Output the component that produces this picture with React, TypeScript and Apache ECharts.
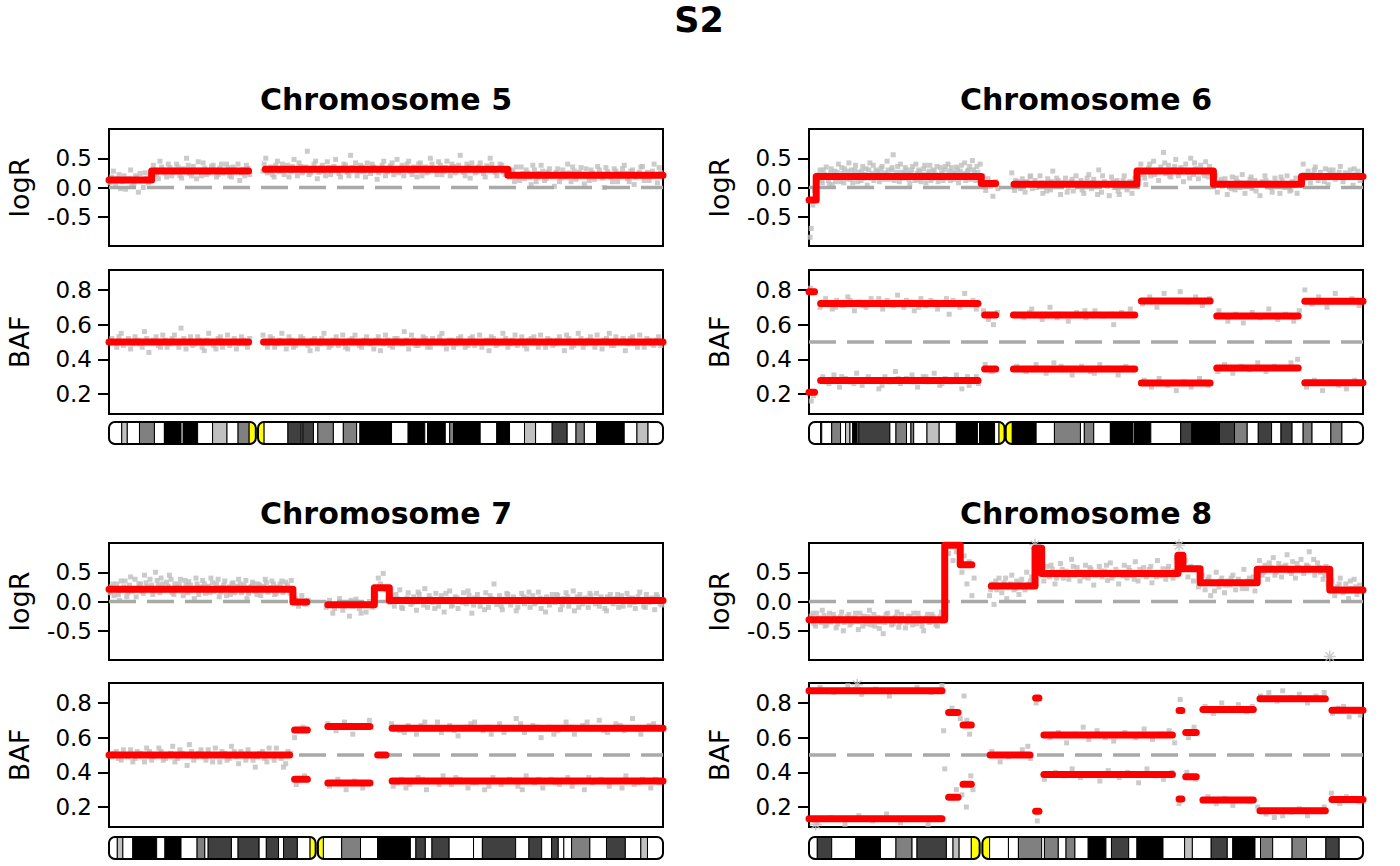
import { useEffect, useRef } from "react";
import * as echarts from "echarts";

type Pt = [number, number];
type Seg = [number, number, number]; // start %, end %, value
type Band = [number, string]; // band end %, stain

// positions are given in % of chromosome length
const CHROMOSOMES = ["5", "6", "7", "8"];
const LOGR_TICKS = [-0.5, 0, 0.5];
const BAF_TICKS = [0.2, 0.4, 0.6, 0.8];
const LOGR_REF = 0;
const BAF_REF = 0.5;

// ---- chromosome 5 ----
const chr5LogR: Pt[] = [[0.5,0.18],[1.2,0.05],[1.8,0.22],[2.4,0.1],[3.0,-0.03],[3.6,0.15],[4.1,0.02],[4.8,0.2],[5.3,-0.08],[5.9,0.12],[6.5,0.25],[7.1,0.08],[8.0,0.38],[8.6,0.22],[9.2,0.45],[9.8,0.3],[10.4,0.18],[11.0,0.34],[11.6,0.26],[12.2,0.4],[12.8,0.2],[13.4,0.32],[14.0,0.5],[14.6,0.24],[15.2,0.36],[15.8,0.15],[16.4,0.3],[17.0,0.42],[17.6,0.22],[18.2,0.28],[18.8,0.38],[19.4,0.18],[20.0,0.33],[20.6,0.25],[21.2,0.4],[21.8,0.2],[22.4,0.35],[23.0,0.27],[23.6,0.12],[24.2,0.31],[24.8,0.38],[25.4,0.22],[28.0,0.4],[28.6,0.25],[29.2,0.35],[29.8,0.18],[30.4,0.45],[31.0,0.3],[31.6,0.22],[32.2,0.38],[32.8,0.28],[33.4,0.48],[34.0,0.2],[34.6,0.36],[35.2,0.3],[35.8,0.62],[36.4,0.25],[37.0,0.4],[37.6,0.15],[38.2,0.33],[38.8,0.28],[39.4,0.44],[40.0,0.22],[40.6,0.36],[41.2,0.3],[41.8,0.18],[42.4,0.4],[43.0,0.26],[43.6,0.55],[44.2,0.32],[44.8,0.2],[45.4,0.38],[46.0,0.28],[46.6,0.42],[47.2,0.24],[47.8,0.35],[48.4,0.14],[49.0,0.31],[49.6,0.45],[50.2,0.27],[50.8,0.37],[51.4,0.22],[52.0,0.48],[52.6,0.3],[53.2,0.2],[53.8,0.4],[54.4,0.28],[55.0,0.35],[55.6,0.18],[56.2,0.42],[56.8,0.3],[57.4,0.25],[58.0,0.5],[58.6,0.33],[59.2,0.22],[59.8,0.38],[60.4,0.28],[61.0,0.45],[61.6,0.2],[62.2,0.36],[62.8,0.3],[63.4,0.55],[64.0,0.26],[64.6,0.4],[65.2,0.16],[65.8,0.33],[66.4,0.28],[67.0,0.42],[67.6,0.24],[68.2,0.37],[68.8,0.5],[69.4,0.3],[70.0,0.2],[70.6,0.4],[71.2,0.27],[72.6,0.3],[73.2,0.1],[73.8,0.22],[74.4,0.35],[75.0,0.15],[75.6,0.25],[76.2,0.05],[76.8,0.3],[77.4,0.18],[78.0,0.38],[78.6,0.12],[79.2,0.26],[79.8,0.2],[80.4,0.02],[81.0,0.32],[81.6,0.16],[82.2,0.24],[82.8,0.4],[83.4,0.1],[84.0,0.28],[84.6,0.2],[85.2,0.34],[85.8,0.06],[86.4,0.22],[87.0,0.3],[87.6,0.14],[88.2,0.36],[88.8,0.2],[89.4,0.0],[90.0,0.27],[90.6,0.18],[91.2,0.32],[91.8,0.1],[92.4,0.24],[93.0,0.38],[93.6,0.15],[94.2,0.28],[94.8,0.05],[95.4,0.22],[96.0,0.35],[96.6,0.12],[97.2,0.26],[97.8,0.2],[98.4,0.4],[99.0,0.08],[99.6,0.25],
  [0.2,0.08],[0.8,0.28],[1.5,0.15],[2.1,-0.02],[2.7,0.2],[3.3,0.12],[3.9,0.3],[4.5,0.06],[5.0,0.17],[5.6,0.24],[6.2,0.0],[6.8,0.15],[7.4,0.22],[7.9,0.2],[8.3,0.3],[8.9,0.15],[9.5,0.35],[10.1,0.25],[10.7,0.4],[11.3,0.2],[11.9,0.3],[12.5,0.35],[13.1,0.16],[13.7,0.28],[14.3,0.38],[14.9,0.2],[15.5,0.27],[16.1,0.44],[16.7,0.2],[17.3,0.33],[17.9,0.25],[18.5,0.36],[19.1,0.3],[19.7,0.22],[20.3,0.4],[20.9,0.28],[21.5,0.34],[22.1,0.18],[22.7,0.3],[23.3,0.4],[23.9,0.25],[24.5,0.2],[25.1,0.33],[27.8,0.28],[28.3,0.5],[28.9,0.32],[29.5,0.22],[30.1,0.38],[30.7,0.28],[31.3,0.4],[31.9,0.32],[32.5,0.18],[33.1,0.36],[33.7,0.3],[34.3,0.42],[34.9,0.25],[35.5,0.35],[36.1,0.22],[36.7,0.32],[37.3,0.45],[37.9,0.26],[38.5,0.38],[39.1,0.2],[39.7,0.34],[40.3,0.3],[40.9,0.48],[41.5,0.24],[42.1,0.32],[42.7,0.38],[43.3,0.2],[43.9,0.34],[44.5,0.42],[45.1,0.28],[45.7,0.35],[46.3,0.18],[46.9,0.32],[47.5,0.4],[48.1,0.3],[48.7,0.25],[49.3,0.38],[49.9,0.2],[50.5,0.33],[51.1,0.42],[51.7,0.3],[52.3,0.25],[52.9,0.38],[53.5,0.32],[54.1,0.45],[54.7,0.22],[55.3,0.3],[55.9,0.4],[56.5,0.2],[57.1,0.35],[57.7,0.28],[58.3,0.4],[58.9,0.3],[59.5,0.44],[60.1,0.22],[60.7,0.34],[61.3,0.3],[61.9,0.4],[62.5,0.25],[63.1,0.38],[63.7,0.3],[64.3,0.2],[64.9,0.36],[65.5,0.42],[66.1,0.25],[66.7,0.35],[67.3,0.3],[67.9,0.18],[68.5,0.33],[69.1,0.4],[69.7,0.26],[70.3,0.32],[70.9,0.38],[71.5,0.22],[72.3,0.18],[72.9,0.28],[73.5,0.35],[74.1,0.12],[74.7,0.24],[75.3,0.3],[75.9,0.18],[76.5,0.38],[77.1,0.1],[77.7,0.24],[78.3,0.28],[78.9,0.15],[79.5,0.32],[80.1,0.2],[80.7,0.26],[81.3,0.1],[81.9,0.3],[82.5,0.18],[83.1,0.25],[83.7,0.35],[84.3,0.14],[84.9,0.26],[85.5,0.22],[86.1,0.32],[86.7,0.12],[87.3,0.25],[87.9,0.2],[88.5,0.3],[89.1,0.16],[89.7,0.34],[90.3,0.22],[90.9,0.1],[91.5,0.28],[92.1,0.2],[92.7,0.32],[93.3,0.24],[93.9,0.1],[94.5,0.3],[95.1,0.18],[95.7,0.26],[96.3,0.36],[96.9,0.2],[97.5,0.12],[98.1,0.28],[98.7,0.22],[99.3,0.34]];
const chr5LogRSegs: Seg[] = [[0,7.7,0.13],[7.7,25.2,0.28],[28.2,72.0,0.31],[72.0,100,0.21]];
const chr5Baf: Pt[] = [[0.5,0.52],[1.4,0.47],[2.2,0.55],[3.0,0.5],[3.9,0.46],[4.7,0.53],[5.5,0.49],[6.4,0.56],[7.2,0.44],[8.0,0.51],[8.9,0.48],[9.7,0.54],[10.5,0.47],[11.4,0.52],[12.2,0.5],[13.0,0.58],[13.9,0.46],[14.7,0.53],[15.5,0.49],[16.4,0.51],[17.2,0.45],[18.0,0.55],[18.9,0.48],[19.7,0.52],[20.5,0.47],[21.4,0.54],[22.2,0.5],[23.0,0.46],[23.9,0.53],[24.7,0.49],[25.4,0.52],[27.8,0.54],[28.6,0.47],[29.5,0.52],[30.3,0.49],[31.2,0.55],[32.0,0.46],[32.9,0.51],[33.7,0.48],[34.6,0.53],[35.4,0.5],[36.3,0.45],[37.1,0.52],[38.0,0.49],[38.8,0.55],[39.7,0.47],[40.5,0.51],[41.4,0.48],[42.2,0.54],[43.1,0.46],[43.9,0.52],[44.8,0.5],[45.6,0.47],[46.5,0.53],[47.3,0.49],[48.2,0.51],[49.0,0.45],[49.9,0.54],[50.7,0.48],[51.6,0.52],[52.4,0.5],[53.3,0.56],[54.1,0.46],[55.0,0.51],[55.8,0.48],[56.7,0.53],[57.5,0.47],[58.4,0.52],[59.2,0.5],[60.1,0.55],[60.9,0.46],[61.8,0.51],[62.6,0.49],[63.5,0.53],[64.3,0.47],[65.2,0.52],[66.0,0.48],[66.9,0.54],[67.7,0.5],[68.6,0.45],[69.4,0.52],[70.3,0.49],[71.1,0.55],[72.0,0.47],[72.8,0.51],[73.7,0.48],[74.5,0.53],[75.4,0.46],[76.2,0.52],[77.1,0.5],[77.9,0.54],[78.8,0.47],[79.6,0.51],[80.5,0.49],[81.3,0.53],[82.2,0.45],[83.0,0.52],[83.9,0.48],[84.7,0.55],[85.6,0.47],[86.4,0.51],[87.3,0.5],[88.1,0.54],[89.0,0.46],[89.8,0.52],[90.7,0.48],[91.5,0.53],[92.4,0.5],[93.2,0.45],[94.1,0.52],[94.9,0.49],[95.8,0.54],[96.6,0.47],[97.5,0.51],[98.3,0.48],[99.2,0.53],
  [0.9,0.5],[1.8,0.53],[2.6,0.48],[3.5,0.52],[4.3,0.49],[5.1,0.51],[6.0,0.47],[6.8,0.52],[7.6,0.5],[8.5,0.53],[9.3,0.47],[10.1,0.51],[11.0,0.49],[11.8,0.54],[12.6,0.47],[13.5,0.52],[14.3,0.5],[15.1,0.48],[16.0,0.53],[16.8,0.47],[17.6,0.51],[18.5,0.5],[19.3,0.46],[20.1,0.53],[21.0,0.5],[21.8,0.48],[22.6,0.52],[23.5,0.49],[24.3,0.51],[25.0,0.47],[28.2,0.5],[29.1,0.53],[29.9,0.47],[30.8,0.51],[31.6,0.5],[32.5,0.53],[33.3,0.47],[34.2,0.5],[35.0,0.52],[35.9,0.48],[36.7,0.51],[37.6,0.46],[38.4,0.52],[39.3,0.5],[40.1,0.48],[41.0,0.53],[41.8,0.5],[42.7,0.47],[43.5,0.51],[44.4,0.54],[45.2,0.48],[46.1,0.51],[46.9,0.5],[47.8,0.46],[48.6,0.53],[49.5,0.49],[50.3,0.51],[51.2,0.47],[52.0,0.52],[52.9,0.49],[53.7,0.51],[54.6,0.54],[55.4,0.48],[56.3,0.5],[57.1,0.52],[58.0,0.47],[58.8,0.5],[59.7,0.53],[60.5,0.49],[61.4,0.51],[62.2,0.47],[63.1,0.52],[63.9,0.5],[64.8,0.48],[65.6,0.53],[66.5,0.5],[67.3,0.47],[68.2,0.51],[69.0,0.53],[69.9,0.48],[70.7,0.5],[71.6,0.52],[72.4,0.49],[73.3,0.54],[74.1,0.5],[75.0,0.48],[75.8,0.51],[76.7,0.53],[77.5,0.47],[78.4,0.5],[79.2,0.52],[80.1,0.48],[80.9,0.51],[81.8,0.5],[82.6,0.54],[83.5,0.47],[84.3,0.5],[85.2,0.52],[86.0,0.49],[86.9,0.53],[87.7,0.47],[88.6,0.5],[89.4,0.51],[90.3,0.55],[91.1,0.48],[92.0,0.5],[92.8,0.52],[93.7,0.49],[94.5,0.53],[95.4,0.47],[96.2,0.5],[97.1,0.52],[97.9,0.49],[98.8,0.51],[99.6,0.48]];
const chr5BafSegs: Seg[] = [[0,25.2,0.5],[27.9,100,0.5]];
const chr5Bands: Band[] = [[2.3,"gneg"],[3.3,"gpos25"],[5.5,"gneg"],[8.2,"gpos50"],[10.0,"gneg"],[13.0,"gpos100"],[13.4,"gneg"],[16.0,"gpos100"],[18.7,"gneg"],[21.3,"gpos25"],[23.3,"gneg"],[25.3,"gpos50"],[26.5,"acen"],[26.9,"gap"],[28.0,"acen"],[32.3,"gneg"],[34.7,"gpos75"],[35.0,"gneg"],[36.9,"gpos75"],[37.7,"gneg"],[40.5,"gpos50"],[42.3,"gneg"],[44.7,"gpos50"],[45.3,"gneg"],[51.0,"gpos100"],[54.0,"gneg"],[57.0,"gpos100"],[57.5,"gneg"],[60.7,"gpos100"],[61.5,"gneg"],[62.2,"gpos50"],[67.0,"gpos100"],[70.0,"gneg"],[72.3,"gpos100"],[75.0,"gneg"],[77.0,"gpos25"],[80.0,"gneg"],[82.7,"gpos75"],[84.3,"gneg"],[85.8,"gpos50"],[88.0,"gneg"],[93.0,"gpos100"],[95.3,"gneg"],[97.3,"gpos25"],[100,"gneg"]];

// ---- chromosome 6 ----
const chr6LogR: Pt[] = [[0.2,-0.85],[0.4,-0.7],[0.7,-0.3],[1.0,-0.05],[1.6,0.15],[2.0,0.3],[2.4,0.08],[2.8,0.22],[3.1,0.35],[3.5,0.12],[3.9,0.25],[4.2,0.05],[4.6,0.28],[5.0,0.18],[5.3,0.4],[5.7,0.1],[6.1,0.24],[6.4,0.32],[6.8,0.15],[7.2,0.42],[7.5,0.2],[7.9,0.08],[8.3,0.3],[8.6,0.18],[9.0,0.26],[9.4,0.12],[9.7,0.36],[10.1,0.22],[10.5,0.04],[10.8,0.3],[11.2,0.16],[11.6,0.38],[11.9,0.2],[12.3,0.27],[12.7,0.1],[13.0,0.33],[13.4,0.19],[13.8,0.25],[14.1,0.45],[14.5,0.14],[14.9,0.3],[15.2,0.56],[15.6,0.2],[16.0,0.36],[16.3,0.1],[16.7,0.26],[17.1,0.17],[17.4,0.34],[17.8,0.22],[18.2,0.06],[18.5,0.3],[18.9,0.2],[19.3,0.4],[19.6,0.13],[20.0,0.27],[20.4,0.18],[20.7,0.32],[21.1,0.08],[21.5,0.24],[21.8,0.38],[22.2,0.15],[22.6,0.28],[22.9,0.2],[23.3,0.1],[23.7,0.34],[24.0,0.22],[24.4,0.3],[24.8,0.16],[25.1,0.4],[25.5,0.12],[25.9,0.26],[26.2,0.2],[26.6,0.35],[27.0,0.08],[27.3,0.28],[27.7,0.18],[28.1,0.42],[28.4,0.22],[28.8,0.3],[29.2,0.14],[29.5,0.46],[29.9,0.25],[30.3,0.36],[30.6,0.18],[31.4,0.2],[31.9,-0.05],[32.3,0.15],[32.8,0.02],[33.2,-0.15],[33.7,0.1],[34.1,-0.02],[36.6,0.25],[37.1,-0.05],[37.6,0.1],[38.0,0.02],[38.5,0.15],[39.0,-0.08],[39.4,0.08],[39.9,0.18],[40.3,-0.02],[40.8,0.12],[41.3,0.04],[41.7,0.2],[42.2,-0.1],[42.6,0.06],[43.1,0.15],[43.6,-0.04],[44.0,0.28],[44.5,0.05],[45.0,0.12],[45.4,-0.12],[45.9,0.08],[46.3,0.16],[46.8,0.0],[47.3,0.1],[47.7,-0.06],[48.2,0.2],[48.6,0.04],[49.1,0.12],[49.6,-0.1],[50.0,0.07],[50.5,0.22],[51.0,-0.02],[51.4,0.14],[51.9,0.03],[52.3,0.3],[52.8,-0.08],[53.3,0.1],[53.7,0.05],[54.2,-0.14],[54.6,0.18],[55.1,0.0],[55.6,0.12],[56.0,-0.12],[56.5,0.06],[56.9,0.2],[57.4,-0.04],[57.9,0.1],[58.3,-0.1],[58.8,0.15],[59.5,0.15],[59.9,0.4],[60.4,0.22],[60.8,0.05],[61.3,0.33],[61.7,0.2],[62.2,0.45],[62.6,0.28],[63.1,0.12],[63.5,0.35],[64.0,0.6],[64.4,0.24],[64.9,0.38],[65.3,0.18],[65.8,0.3],[66.2,0.48],[66.7,0.2],[67.1,0.34],[67.6,0.1],[68.0,0.4],[68.5,0.26],[68.9,0.5],[69.4,0.22],[69.8,0.32],[70.3,0.15],[70.7,0.38],[71.2,0.25],[71.6,0.44],[72.1,0.18],[72.5,0.3],[73.3,0.2],[73.7,-0.08],[74.2,0.1],[74.6,0.02],[75.1,0.15],[75.5,-0.12],[76.0,0.06],[76.4,0.18],[76.9,-0.04],[77.3,0.1],[77.8,0.0],[78.2,0.22],[78.7,-0.1],[79.1,0.08],[79.6,0.14],[80.0,-0.02],[80.5,0.12],[80.9,0.04],[81.4,-0.14],[81.8,0.1],[82.3,0.2],[82.7,0.02],[83.2,0.08],[83.6,-0.08],[84.1,0.16],[84.5,0.05],[85.0,-0.1],[85.4,0.12],[85.9,0.0],[86.3,0.2],[86.8,-0.06],[87.2,0.1],[87.7,0.03],[88.1,-0.1],[88.6,0.14],[89.2,0.4],[89.6,0.15],[90.1,0.28],[90.5,0.08],[91.0,0.22],[91.4,0.35],[91.9,0.12],[92.3,0.26],[92.8,0.18],[93.2,0.32],[93.7,0.05],[94.1,0.24],[94.6,0.3],[95.0,0.14],[95.5,0.2],[95.9,0.36],[96.4,0.1],[96.8,0.25],[97.3,0.18],[97.7,0.3],[98.2,0.04],[98.6,0.22],[99.1,0.28],[99.5,0.12],
  [1.8,0.22],[2.2,0.12],[2.6,0.3],[3.3,0.18],[3.7,0.05],[4.0,0.32],[4.4,0.2],[4.8,0.1],[5.1,0.26],[5.5,0.16],[5.9,0.34],[6.3,0.08],[6.6,0.2],[7.0,0.28],[7.4,0.14],[7.7,0.3],[8.1,0.22],[8.4,0.38],[8.8,0.1],[9.2,0.2],[9.5,0.28],[9.9,0.16],[10.3,0.32],[10.6,0.2],[11.0,0.42],[11.4,0.24],[11.7,0.12],[12.1,0.3],[12.5,0.2],[12.9,0.26],[13.2,0.36],[13.6,0.14],[14.0,0.22],[14.3,0.3],[14.7,0.2],[15.0,0.34],[15.4,0.12],[15.8,0.26],[16.1,0.2],[16.5,0.4],[16.9,0.16],[17.2,0.24],[17.6,0.3],[18.0,0.14],[18.3,0.24],[18.7,0.36],[19.1,0.12],[19.5,0.24],[19.8,0.3],[20.2,0.1],[20.6,0.22],[20.9,0.38],[21.3,0.18],[21.7,0.28],[22.0,0.12],[22.4,0.3],[22.8,0.22],[23.1,0.36],[23.5,0.16],[23.9,0.25],[24.2,0.12],[24.6,0.36],[25.0,0.2],[25.3,0.28],[25.7,0.34],[26.1,0.14],[26.4,0.24],[26.8,0.3],[27.2,0.16],[27.5,0.38],[27.9,0.24],[28.3,0.12],[28.6,0.28],[29.0,0.36],[29.4,0.2],[29.7,0.3],[30.1,0.12],[30.5,0.26],[30.9,0.4],[37.3,0.12],[38.2,-0.02],[39.2,0.1],[40.0,0.2],[41.0,0.0],[42.0,0.08],[42.9,-0.06],[43.8,0.1],[44.7,0.16],[45.6,0.02],[46.6,-0.08],[47.5,0.14],[48.4,0.06],[49.3,-0.04],[50.2,0.16],[51.2,0.08],[52.1,-0.12],[53.0,0.2],[53.9,0.02],[54.9,0.1],[55.8,-0.06],[56.7,0.12],[57.7,0.02],[58.6,0.08],[59.7,0.3],[60.6,0.16],[61.5,0.4],[62.4,0.22],[63.3,0.3],[64.2,0.42],[65.1,0.2],[66.0,0.36],[66.9,0.26],[67.8,0.3],[68.7,0.16],[69.6,0.42],[70.5,0.28],[71.4,0.2],[72.3,0.36],[73.5,0.04],[74.4,0.14],[75.3,0.06],[76.2,-0.02],[77.1,0.16],[78.0,0.08],[78.9,0.02],[79.8,0.18],[80.7,-0.06],[81.6,0.06],[82.5,0.12],[83.4,0.0],[84.3,0.08],[85.2,0.18],[86.1,0.06],[87.0,-0.04],[87.9,0.16],[88.8,0.05],[89.4,0.22],[90.3,0.16],[91.2,0.3],[92.1,0.2],[93.0,0.1],[93.9,0.3],[94.8,0.22],[95.7,0.26],[96.6,0.16],[97.5,0.22],[98.4,0.32],[99.3,0.2]];
const chr6LogRSegs: Seg[] = [[0,1.3,-0.215],[1.3,31.1,0.19],[31.1,33.7,0.07],[37.0,59.2,0.055],[59.2,73.0,0.28],[73.0,88.9,0.055],[88.9,100,0.19]];
const chr6Baf: Pt[] = [[0.3,0.81],[2.0,0.7],[3.0,0.75],[4.2,0.69],[5.0,0.74],[6.1,0.71],[7.0,0.76],[8.2,0.68],[9.1,0.73],[10.3,0.7],[11.2,0.75],[12.0,0.72],[13.3,0.69],[14.1,0.74],[15.2,0.71],[16.0,0.77],[17.1,0.7],[18.3,0.73],[19.0,0.68],[20.2,0.75],[21.1,0.71],[22.0,0.74],[23.2,0.69],[24.1,0.72],[25.3,0.66],[26.0,0.74],[27.2,0.7],[28.1,0.78],[29.0,0.72],[30.2,0.69],[31.5,0.68],[32.4,0.63],[33.3,0.6],[34.0,0.67],[37.0,0.66],[38.8,0.64],[40.2,0.69],[42.1,0.63],[43.5,0.7],[45.0,0.66],[46.8,0.62],[48.3,0.67],[50.0,0.64],[51.6,0.68],[53.1,0.65],[55.0,0.6],[56.4,0.67],[58.0,0.69],[60.2,0.72],[61.5,0.76],[62.8,0.7],[64.1,0.78],[65.5,0.74],[67.0,0.79],[68.3,0.73],[69.8,0.76],[71.0,0.71],[72.3,0.75],[74.0,0.68],[75.6,0.62],[77.0,0.66],[78.4,0.61],[80.0,0.67],[81.5,0.64],[83.0,0.69],[84.6,0.63],[86.0,0.66],[87.5,0.62],[88.5,0.68],[89.5,0.8],[90.8,0.72],[92.0,0.76],[93.5,0.7],[95.0,0.78],[96.4,0.73],[98.0,0.75],[99.3,0.71],[0.4,0.16],[0.8,0.19],[2.5,0.3],[3.6,0.26],[4.5,0.31],[5.5,0.24],[6.6,0.29],[7.5,0.27],[8.6,0.32],[9.6,0.25],[10.7,0.3],[11.6,0.28],[12.6,0.23],[13.7,0.3],[14.6,0.27],[15.6,0.33],[16.5,0.26],[17.6,0.29],[18.6,0.31],[19.6,0.24],[20.6,0.3],[21.5,0.27],[22.6,0.32],[23.6,0.25],[24.6,0.29],[25.6,0.27],[26.6,0.31],[27.6,0.23],[28.6,0.3],[29.6,0.28],[30.6,0.26],[31.8,0.37],[33.0,0.33],[37.5,0.36],[39.2,0.33],[41.0,0.37],[42.8,0.32],[44.2,0.38],[46.0,0.34],[47.5,0.31],[49.2,0.36],[50.8,0.33],[52.5,0.37],[54.0,0.35],[55.8,0.31],[57.2,0.36],[58.6,0.34],[60.5,0.28],[61.8,0.24],[63.2,0.29],[64.8,0.25],[66.3,0.22],[67.7,0.27],[69.0,0.24],[70.5,0.29],[72.0,0.25],[73.8,0.33],[75.0,0.37],[76.5,0.32],[78.0,0.36],[79.5,0.34],[81.0,0.38],[82.5,0.33],[84.0,0.36],[85.5,0.35],[87.0,0.38],[88.2,0.4],[89.8,0.24],[91.2,0.28],[92.7,0.22],[94.2,0.27],[95.6,0.25],[97.0,0.23],[98.5,0.28],[99.6,0.26],
  [2.6,0.73],[4.8,0.7],[7.4,0.74],[9.8,0.71],[12.6,0.75],[14.8,0.72],[17.6,0.74],[19.8,0.7],[22.6,0.73],[24.8,0.75],[27.7,0.72],[29.6,0.74],[3.1,0.27],[5.9,0.3],[8.1,0.26],[10.9,0.28],[13.2,0.25],[16.1,0.29],[18.9,0.27],[21.1,0.3],[24.0,0.26],[26.1,0.28],[28.9,0.25],[30.2,0.3],[39.8,0.67],[44.8,0.64],[49.8,0.68],[54.8,0.66],[40.5,0.34],[45.5,0.36],[51.5,0.32],[56.5,0.35]];
const chr6BafSegs: Seg[] = [[0,1.0,0.79],[2.1,30.5,0.722],[31.7,33.7,0.656],[36.9,58.8,0.656],[60.0,72.4,0.737],[73.6,88.3,0.65],[89.5,100,0.735],[0,1.0,0.21],[2.1,30.5,0.278],[31.7,33.7,0.344],[36.9,58.8,0.344],[60.0,72.4,0.263],[73.6,88.3,0.35],[89.5,100,0.265]];
const chr6Bands: Band[] = [[2.1,"gneg"],[2.3,"gpos50"],[4.1,"gneg"],[5.7,"gpos50"],[6.6,"gneg"],[7.4,"gpos25"],[7.9,"gneg"],[8.7,"gpos100"],[9.0,"gneg"],[14.6,"gpos75"],[15.7,"gneg"],[17.6,"gpos50"],[18.4,"gneg"],[18.9,"gpos50"],[21.3,"gneg"],[23.5,"gpos25"],[26.6,"gneg"],[30.4,"gpos100"],[30.8,"gneg"],[33.5,"gpos100"],[34.3,"gneg"],[35.3,"acen"],[35.5,"gap"],[36.7,"acen"],[41.0,"gpos100"],[44.3,"gneg"],[49.0,"gpos50"],[49.7,"gneg"],[51.4,"gpos50"],[54.4,"gneg"],[58.4,"gpos100"],[58.7,"gneg"],[61.7,"gpos100"],[67.1,"gneg"],[69.1,"gpos75"],[74.1,"gpos100"],[76.8,"gpos75"],[79.1,"gpos50"],[81.1,"gneg"],[83.5,"gpos75"],[85.2,"gneg"],[87.2,"gpos75"],[89.2,"gneg"],[90.8,"gpos50"],[94.2,"gneg"],[96.2,"gpos50"],[100,"gneg"]];

// ---- chromosome 7 ----
const chr7LogR: Pt[] = [[0.4,0.25],[0.9,0.1],[1.4,0.3],[1.9,0.02],[2.4,0.2],[2.9,0.35],[3.4,0.15],[3.9,0.42],[4.4,0.22],[4.9,0.08],[5.4,0.3],[5.9,0.18],[6.4,0.45],[6.9,0.25],[7.4,0.38],[7.9,0.12],[8.4,0.5],[8.9,0.28],[9.4,0.4],[9.9,0.2],[10.4,0.33],[10.9,0.45],[11.4,0.15],[11.9,0.3],[12.4,0.25],[12.9,0.38],[13.4,0.1],[13.9,0.28],[14.4,0.34],[14.9,0.2],[15.4,0.05],[15.9,0.3],[16.4,0.22],[16.9,0.36],[17.4,0.14],[17.9,0.26],[18.4,0.4],[18.9,0.18],[19.4,0.3],[19.9,0.08],[20.4,0.24],[20.9,0.35],[21.4,0.2],[21.9,0.12],[22.4,0.32],[22.9,0.22],[23.4,0.38],[23.9,0.15],[24.4,0.28],[24.9,0.05],[25.4,0.24],[25.9,0.33],[26.4,0.18],[26.9,0.3],[27.4,0.1],[27.9,0.26],[28.4,0.32],[28.9,0.2],[29.4,0.35],[29.9,0.12],[30.4,0.25],[30.9,0.3],[31.4,0.15],[31.9,0.33],[32.4,0.22],[32.9,0.36],[33.6,0.05],[34.2,-0.08],[34.8,0.1],[35.4,-0.05],[36.0,0.02],[39.2,-0.1],[39.8,0.02],[40.4,-0.2],[41.0,-0.05],[41.6,0.05],[42.2,-0.15],[42.8,-0.02],[43.4,-0.25],[44.0,-0.08],[44.6,0.04],[45.2,-0.12],[45.8,-0.03],[46.4,-0.18],[47.0,0.0],[47.6,-0.1],[48.2,0.1],[48.6,0.4],[49.0,0.3],[49.5,0.48],[50.0,0.2],[50.4,0.05],[51.0,0.1],[51.5,-0.08],[52.0,0.05],[52.5,0.2],[53.0,-0.12],[53.5,0.02],[54.0,0.15],[54.5,-0.05],[55.0,0.08],[55.5,-0.15],[56.0,0.12],[56.5,0.0],[57.0,0.22],[57.5,-0.1],[58.0,0.05],[58.5,-0.02],[59.0,0.14],[59.5,-0.08],[60.0,0.1],[60.5,-0.18],[61.0,0.04],[61.5,0.18],[62.0,-0.06],[62.5,0.08],[63.0,-0.12],[63.5,0.02],[64.0,0.15],[64.5,-0.04],[65.0,0.1],[65.5,-0.2],[66.0,0.06],[66.5,0.12],[67.0,-0.08],[67.5,0.0],[68.0,0.15],[68.5,-0.1],[69.0,0.05],[69.5,0.3],[70.0,-0.05],[70.5,0.1],[71.0,-0.14],[71.5,0.04],[72.0,0.12],[72.5,-0.06],[73.0,0.08],[73.5,-0.16],[74.0,0.02],[74.5,0.14],[75.0,-0.04],[75.5,0.06],[76.0,-0.1],[76.5,0.1],[77.0,-0.02],[77.5,0.16],[78.0,-0.12],[78.5,0.04],[79.0,0.08],[79.5,-0.06],[80.0,0.12],[80.5,-0.02],[81.0,0.1],[81.5,-0.14],[82.0,0.05],[82.5,0.15],[83.0,-0.08],[83.5,0.02],[84.0,-0.16],[84.5,0.08],[85.0,0.12],[85.5,-0.04],[86.0,0.06],[86.5,-0.1],[87.0,0.1],[87.5,0.0],[88.0,0.14],[88.5,-0.08],[89.0,0.04],[89.5,-0.12],[90.0,0.08],[90.5,0.12],[91.0,-0.04],[91.5,0.05],[92.0,-0.1],[92.5,0.1],[93.0,0.0],[93.5,0.14],[94.0,-0.06],[94.5,0.06],[95.0,-0.12],[95.5,0.08],[96.0,0.02],[96.5,-0.08],[97.0,0.12],[97.5,-0.02],[98.0,0.06],[98.5,-0.14],[99.0,0.08],[99.5,-0.04],
  [0.2,0.15],[0.7,0.3],[1.2,0.22],[1.7,0.12],[2.2,0.35],[2.7,0.25],[3.2,0.08],[3.7,0.28],[4.2,0.18],[4.7,0.38],[5.2,0.2],[5.7,0.3],[6.2,0.14],[6.7,0.32],[7.2,0.22],[7.7,0.28],[8.2,0.18],[8.7,0.36],[9.2,0.15],[9.7,0.3],[10.2,0.22],[10.7,0.26],[11.2,0.38],[11.7,0.12],[12.2,0.22],[12.7,0.3],[13.2,0.2],[13.7,0.36],[14.2,0.15],[14.7,0.28],[15.2,0.22],[15.7,0.4],[16.2,0.12],[16.7,0.25],[17.2,0.3],[17.7,0.2],[18.2,0.15],[18.7,0.32],[19.2,0.22],[19.7,0.38],[20.2,0.16],[20.7,0.28],[21.2,0.1],[21.7,0.25],[22.2,0.3],[22.7,0.15],[23.2,0.26],[23.7,0.3],[24.2,0.2],[24.7,0.36],[25.2,0.14],[25.7,0.26],[26.2,0.3],[26.7,0.12],[27.2,0.28],[27.7,0.2],[28.2,0.38],[28.7,0.16],[29.2,0.24],[29.7,0.3],[30.2,0.14],[30.7,0.22],[31.2,0.35],[31.7,0.2],[32.2,0.28],[32.7,0.14],[39.5,-0.02],[40.7,-0.12],[42.5,-0.08],[43.7,0.02],[45.5,-0.2],[46.7,-0.06],[50.8,-0.02],[51.8,0.12],[52.8,-0.1],[53.8,0.06],[54.8,-0.02],[55.8,0.16],[56.8,-0.06],[57.8,0.1],[58.8,-0.12],[59.8,0.04],[60.8,0.14],[61.8,-0.08],[62.8,0.06],[63.8,-0.02],[64.8,0.18],[65.8,-0.06],[66.8,0.04],[67.8,-0.14],[68.8,0.1],[69.8,0.02],[70.8,-0.08],[71.8,0.14],[72.8,0.0],[73.8,-0.1],[74.8,0.08],[75.8,0.16],[76.8,-0.04],[77.8,0.06],[78.8,-0.18],[79.8,0.04],[80.8,0.12],[81.8,-0.06],[82.8,0.08],[83.8,0.18],[84.8,-0.1],[85.8,0.02],[86.8,0.14],[87.8,-0.04],[88.8,0.08],[89.8,-0.16],[90.8,0.02],[91.8,0.12],[92.8,-0.08],[93.8,0.06],[94.8,-0.02],[95.8,0.16],[96.8,-0.1],[97.8,0.04],[98.8,0.12],[99.8,-0.06]];
const chr7LogRSegs: Seg[] = [[0,33.2,0.21],[33.2,35.7,-0.01],[39.5,47.9,-0.055],[47.9,50.6,0.235],[50.6,100,0.015]];
const chr7Baf: Pt[] = [[0.5,0.49],[1.3,0.52],[2.2,0.47],[3.0,0.5],[3.9,0.53],[4.7,0.48],[5.6,0.51],[6.4,0.46],[7.3,0.52],[8.1,0.49],[9.0,0.54],[9.8,0.47],[10.7,0.5],[11.5,0.55],[12.4,0.48],[13.2,0.51],[14.1,0.44],[14.9,0.52],[15.8,0.49],[16.6,0.53],[17.5,0.47],[18.3,0.5],[19.2,0.54],[20.0,0.46],[20.9,0.51],[21.7,0.48],[22.6,0.52],[23.4,0.45],[24.3,0.5],[25.1,0.53],[26.0,0.47],[26.8,0.49],[27.7,0.52],[28.5,0.46],[29.4,0.5],[30.2,0.54],[31.1,0.48],[31.9,0.45],[32.8,0.51],[33.5,0.6],[35.0,0.66],[33.8,0.33],[35.3,0.38],[39.5,0.68],[41.0,0.64],[42.5,0.69],[44.0,0.62],[45.5,0.67],[47.0,0.7],[39.8,0.32],[41.3,0.36],[42.8,0.3],[44.3,0.35],[45.8,0.31],[47.3,0.34],[51.0,0.68],[52.5,0.64],[54.0,0.67],[55.5,0.62],[57.0,0.69],[58.5,0.65],[60.0,0.63],[61.5,0.67],[63.0,0.61],[64.5,0.66],[66.0,0.69],[67.5,0.64],[69.0,0.62],[70.5,0.68],[72.0,0.65],[73.5,0.71],[75.0,0.63],[76.5,0.67],[78.0,0.6],[79.5,0.66],[81.0,0.64],[82.5,0.69],[84.0,0.62],[85.5,0.67],[87.0,0.65],[88.5,0.7],[90.0,0.63],[91.5,0.68],[93.0,0.64],[94.5,0.71],[96.0,0.62],[97.5,0.67],[99.0,0.65],[51.3,0.32],[52.8,0.36],[54.3,0.33],[55.8,0.37],[57.3,0.3],[58.8,0.35],[60.3,0.38],[61.8,0.33],[63.3,0.36],[64.8,0.31],[66.3,0.34],[67.8,0.3],[69.3,0.37],[70.8,0.33],[72.3,0.36],[73.8,0.32],[75.3,0.38],[76.8,0.34],[78.3,0.31],[79.8,0.36],[81.3,0.33],[82.8,0.37],[84.3,0.35],[85.8,0.3],[87.3,0.34],[88.8,0.36],[90.3,0.32],[91.8,0.35],[93.3,0.38],[94.8,0.33],[96.3,0.36],[97.8,0.31],[99.3,0.34],
  [0.9,0.51],[1.7,0.48],[2.6,0.53],[3.4,0.49],[4.3,0.46],[5.1,0.52],[6.0,0.5],[6.8,0.54],[7.7,0.47],[8.5,0.5],[9.4,0.52],[10.2,0.48],[11.1,0.51],[11.9,0.46],[12.8,0.53],[13.6,0.5],[14.5,0.56],[15.3,0.47],[16.2,0.51],[17.0,0.49],[17.9,0.53],[18.7,0.46],[19.6,0.5],[20.4,0.52],[21.3,0.47],[22.1,0.55],[23.0,0.49],[23.8,0.52],[24.7,0.47],[25.5,0.5],[26.4,0.43],[27.2,0.51],[28.1,0.48],[28.9,0.54],[29.8,0.47],[30.6,0.5],[31.5,0.43],[32.3,0.52],[51.8,0.66],[53.3,0.63],[56.3,0.67],[59.3,0.69],[62.3,0.64],[65.3,0.68],[68.3,0.66],[71.3,0.63],[74.3,0.68],[77.3,0.66],[80.3,0.62],[83.3,0.66],[86.3,0.69],[89.3,0.64],[92.3,0.67],[95.3,0.65],[98.3,0.68],[52.1,0.34],[53.6,0.31],[56.6,0.36],[59.6,0.33],[62.6,0.37],[65.6,0.34],[68.6,0.32],[71.6,0.35],[74.6,0.3],[77.6,0.36],[80.6,0.34],[83.6,0.32],[86.6,0.37],[89.6,0.35],[92.6,0.31],[95.6,0.34],[98.6,0.36]];
const chr7BafSegs: Seg[] = [[0,32.6,0.5],[33.5,35.8,0.644],[33.5,35.8,0.36],[39.5,47.1,0.664],[39.5,47.1,0.338],[48.5,50.0,0.5],[51.1,100,0.654],[51.1,100,0.35]];
const chr7Bands: Band[] = [[1.5,"gneg"],[2.5,"gpos25"],[4.3,"gneg"],[8.6,"gpos100"],[10.1,"gneg"],[13.0,"gpos100"],[15.9,"gneg"],[17.3,"gpos50"],[17.9,"gneg"],[22.1,"gpos75"],[23.3,"gneg"],[27.1,"gpos75"],[28.4,"gneg"],[30.6,"gpos75"],[31.5,"gneg"],[34.0,"gpos75"],[36.3,"gneg"],[37.3,"acen"],[37.7,"gap"],[38.7,"acen"],[42.0,"gneg"],[45.4,"gpos50"],[48.5,"gneg"],[54.4,"gpos100"],[55.4,"gneg"],[57.1,"gpos75"],[58.3,"gneg"],[61.4,"gpos75"],[65.8,"gneg"],[67.4,"gneg"],[73.4,"gpos75"],[75.8,"gneg"],[78.1,"gpos75"],[79.9,"gneg"],[81.1,"gpos75"],[82.1,"gneg"],[83.5,"gneg"],[86.8,"gpos50"],[89.8,"gneg"],[93.2,"gpos75"],[96.0,"gneg"],[97.2,"gpos25"],[100,"gneg"]];

// ---- chromosome 8 ----
const chr8LogR: Pt[] = [[0.4,-0.25],[0.9,-0.38],[1.4,-0.2],[1.9,-0.32],[2.4,-0.15],[2.9,-0.42],[3.4,-0.28],[3.9,-0.35],[4.4,-0.22],[4.9,-0.45],[5.4,-0.3],[5.9,-0.18],[6.4,-0.36],[6.9,-0.26],[7.4,-0.4],[7.9,-0.3],[8.4,-0.2],[8.9,-0.48],[9.4,-0.33],[9.9,-0.25],[10.4,-0.38],[10.9,-0.15],[11.4,-0.3],[11.9,-0.42],[12.4,-0.27],[12.9,-0.35],[13.4,-0.55],[13.9,-0.22],[14.4,-0.32],[14.9,-0.4],[15.4,-0.28],[15.9,-0.18],[16.4,-0.36],[16.9,-0.3],[17.4,-0.45],[17.9,-0.25],[18.4,-0.33],[18.9,-0.2],[19.4,-0.38],[19.9,-0.28],[20.4,-0.42],[20.9,-0.3],[21.4,-0.22],[21.9,-0.35],[22.4,-0.26],[22.9,-0.4],[23.4,-0.32],[23.9,-0.18],[25.2,0.82],[26.0,0.7],[26.6,0.85],[27.6,0.5],[28.0,0.78],[28.5,0.3],[28.9,0.68],[29.4,0.1],[29.8,0.4],[32.6,0.1],[33.0,0.3],[33.4,-0.05],[33.9,0.2],[34.3,0.4],[34.8,0.15],[35.2,0.32],[35.7,0.05],[36.1,0.25],[36.6,0.45],[37.0,0.2],[37.5,0.35],[37.9,0.12],[38.4,0.38],[38.8,0.25],[39.3,0.5],[39.7,0.3],[40.2,0.42],[41.2,0.75],[41.7,0.6],[42.4,0.35],[42.9,0.6],[43.4,0.42],[43.9,0.55],[44.4,0.3],[44.9,0.5],[45.4,0.65],[45.9,0.4],[46.4,0.52],[46.9,0.38],[47.4,0.72],[47.9,0.45],[48.4,0.58],[48.9,0.35],[49.4,0.5],[49.9,0.62],[50.4,0.4],[50.9,0.55],[51.4,0.28],[51.9,0.48],[52.4,0.6],[52.9,0.42],[53.4,0.52],[53.9,0.36],[54.4,0.66],[54.9,0.45],[55.4,0.55],[55.9,0.3],[56.4,0.5],[56.9,0.62],[57.4,0.4],[57.9,0.53],[58.4,0.45],[58.9,0.68],[59.4,0.35],[59.9,0.5],[60.4,0.58],[60.9,0.42],[61.4,0.55],[61.9,0.32],[62.4,0.48],[62.9,0.7],[63.4,0.44],[63.9,0.56],[64.4,0.38],[64.9,0.6],[65.4,0.46],[65.9,0.52],[66.3,0.75],[67.0,0.65],[67.9,0.7],[68.4,0.42],[68.9,0.6],[69.4,0.35],[69.9,0.55],[70.3,0.25],[71.0,0.45],[71.5,0.2],[72.0,0.38],[72.5,0.1],[73.0,0.3],[73.5,0.5],[74.0,0.25],[74.5,0.4],[75.0,0.15],[75.5,0.35],[76.0,0.28],[76.5,0.45],[77.0,0.2],[77.5,0.38],[78.0,0.3],[78.5,0.55],[79.0,0.22],[79.5,0.4],[80.0,0.3],[80.5,0.18],[81.3,0.7],[81.8,0.45],[82.3,0.62],[82.8,0.38],[83.3,0.58],[83.8,0.75],[84.3,0.5],[84.8,0.65],[85.3,0.42],[85.8,0.6],[86.3,0.8],[86.8,0.52],[87.3,0.68],[87.8,0.4],[88.3,0.58],[88.8,0.72],[89.3,0.48],[89.8,0.62],[90.3,0.85],[90.8,0.55],[91.3,0.45],[91.8,0.66],[92.3,0.5],[92.8,0.38],[93.3,0.6],[93.7,0.3],[94.4,0.35],[94.9,0.1],[95.4,0.25],[95.9,0.4],[96.4,0.15],[96.9,0.3],[97.4,0.05],[97.9,0.22],[98.4,0.38],[98.9,0.12],[99.4,0.28],
  [0.2,-0.32],[0.7,-0.2],[1.2,-0.42],[1.7,-0.28],[2.2,-0.36],[2.7,-0.24],[3.2,-0.4],[3.7,-0.2],[4.2,-0.32],[4.7,-0.28],[5.2,-0.38],[5.7,-0.26],[6.2,-0.5],[6.7,-0.3],[7.2,-0.22],[7.7,-0.36],[8.2,-0.28],[8.7,-0.34],[9.2,-0.2],[9.7,-0.42],[10.2,-0.3],[10.7,-0.26],[11.2,-0.4],[11.7,-0.22],[12.2,-0.34],[12.7,-0.46],[13.2,-0.28],[13.7,-0.36],[14.2,-0.2],[14.7,-0.3],[15.2,-0.38],[15.7,-0.26],[16.2,-0.44],[16.7,-0.22],[17.2,-0.32],[17.7,-0.36],[18.2,-0.26],[18.7,-0.4],[19.2,-0.3],[19.7,-0.2],[20.2,-0.34],[20.7,-0.5],[21.2,-0.28],[21.7,-0.36],[22.2,-0.22],[22.7,-0.32],[23.2,-0.42],[23.7,-0.26],[24.2,-0.34],[32.8,0.2],[33.7,0.35],[34.6,0.25],[35.5,0.4],[36.4,0.3],[37.3,0.22],[38.1,0.3],[39.0,0.2],[40.0,0.35],[42.7,0.45],[43.7,0.62],[44.7,0.4],[45.7,0.55],[46.7,0.46],[47.7,0.6],[48.7,0.5],[49.7,0.42],[50.7,0.58],[51.7,0.45],[52.7,0.52],[53.7,0.62],[54.7,0.4],[55.7,0.5],[56.7,0.44],[57.7,0.58],[58.7,0.38],[59.7,0.55],[60.7,0.48],[61.7,0.6],[62.7,0.42],[63.7,0.5],[64.7,0.55],[65.7,0.4],[71.2,0.3],[72.2,0.42],[73.2,0.18],[74.2,0.35],[75.2,0.28],[76.2,0.4],[77.2,0.32],[78.2,0.22],[79.2,0.35],[80.2,0.42],[81.1,0.55],[82.1,0.5],[83.1,0.66],[84.1,0.45],[85.1,0.58],[86.1,0.62],[87.1,0.48],[88.1,0.65],[89.1,0.55],[90.1,0.6],[91.1,0.72],[92.1,0.58],[93.1,0.45],[94.7,0.22],[95.7,0.3],[96.7,0.18],[97.7,0.35],[98.7,0.25],[99.7,0.2]];
const chr8LogROut: Pt[] = [[40.8,0.97],[66.8,0.96],[94.0,-0.94]];
const chr8LogRSegs: Seg[] = [[0,24.5,-0.31],[24.5,27.3,0.96],[27.3,29.4,0.63],[32.9,40.8,0.265],[40.8,42.0,0.91],[42.0,66.6,0.48],[66.6,67.5,0.79],[67.5,70.6,0.56],[70.6,80.9,0.32],[80.9,94.0,0.55],[94.0,100,0.195]];
const chr8Baf: Pt[] = [[2.0,0.89],[4.5,0.86],[7.0,0.9],[9.5,0.85],[12.0,0.88],[14.5,0.84],[17.0,0.87],[19.5,0.89],[22.0,0.86],[24.0,0.9],[1.5,0.11],[4.0,0.14],[6.5,0.1],[9.0,0.15],[11.5,0.12],[14.0,0.16],[16.5,0.11],[19.0,0.13],[21.5,0.1],[23.5,0.14],[24.3,0.64],[24.5,0.42],[25.8,0.77],[26.6,0.3],[27.3,0.71],[27.6,0.27],[28.0,0.84],[28.4,0.2],[28.5,0.7],[29.0,0.62],[29.2,0.38],[29.6,0.3],[33.0,0.52],[34.5,0.46],[36.0,0.49],[37.5,0.5],[38.5,0.53],[39.5,0.55],[40.0,0.48],[41.0,0.8],[41.2,0.12],[43.5,0.6],[45.0,0.63],[46.5,0.57],[48.0,0.62],[49.5,0.66],[50.5,0.59],[52.0,0.64],[53.5,0.6],[55.0,0.58],[57.0,0.63],[59.0,0.6],[60.5,0.65],[62.0,0.59],[63.5,0.62],[65.0,0.64],[66.0,0.57],[42.5,0.36],[44.5,0.4],[46.0,0.38],[47.5,0.42],[49.0,0.37],[51.0,0.39],[52.5,0.35],[54.0,0.41],[56.0,0.37],[57.5,0.4],[59.5,0.34],[61.0,0.42],[62.5,0.38],[64.0,0.36],[65.5,0.4],[67.0,0.82],[66.8,0.22],[68.5,0.6],[69.5,0.66],[68.2,0.4],[69.8,0.36],[71.5,0.78],[73.0,0.74],[74.5,0.8],[76.0,0.76],[77.5,0.79],[79.0,0.75],[80.0,0.78],[72.0,0.26],[73.5,0.22],[75.0,0.25],[76.5,0.21],[78.0,0.24],[79.5,0.23],[81.5,0.84],[83.0,0.86],[84.5,0.81],[85.5,0.87],[87.0,0.83],[88.5,0.85],[90.0,0.8],[91.5,0.84],[93.0,0.86],[81.0,0.2],[82.5,0.16],[84.0,0.14],[85.5,0.15],[87.0,0.17],[88.5,0.19],[90.0,0.15],[91.5,0.18],[93.0,0.2],[94.5,0.74],[95.5,0.77],[96.5,0.78],[97.5,0.72],[98.5,0.75],[99.5,0.73],[94.3,0.28],[95.8,0.22],[97.0,0.26],[98.2,0.25],[99.3,0.23]];
const chr8BafOut: Pt[] = [[8.7,0.905],[1.2,0.1]];
const chr8BafSegs: Seg[] = [[0,24.0,0.871],[0,24.0,0.133],[25.2,26.9,0.745],[25.2,26.9,0.257],[27.8,29.3,0.673],[27.8,29.3,0.331],[32.7,39.9,0.5],[40.9,41.5,0.828],[40.9,41.5,0.176],[42.4,65.6,0.615],[42.4,65.6,0.387],[66.8,67.3,0.756],[66.8,67.3,0.246],[68.0,69.9,0.63],[68.0,69.9,0.374],[71.1,80.2,0.762],[71.1,80.2,0.24],[81.4,93.2,0.824],[81.4,93.2,0.178],[94.4,100,0.758],[94.4,100,0.244]];
const chr8Bands: Band[] = [[1.5,"gneg"],[4.1,"gpos75"],[8.4,"gneg"],[12.9,"gpos100"],[15.7,"gneg"],[18.6,"gpos50"],[19.5,"gneg"],[24.8,"gpos75"],[26.0,"gneg"],[27.1,"gpos25"],[29.3,"gneg"],[30.8,"acen"],[31.3,"gap"],[32.6,"acen"],[36.0,"gneg"],[37.8,"gneg"],[42.0,"gpos50"],[42.5,"gneg"],[45.0,"gpos50"],[46.4,"gneg"],[48.0,"gpos50"],[50.4,"gneg"],[53.6,"gpos100"],[54.6,"gneg"],[57.7,"gpos75"],[59.2,"gneg"],[63.9,"gpos100"],[67.8,"gneg"],[69.2,"gpos25"],[72.6,"gneg"],[75.5,"gpos75"],[76.5,"gneg"],[80.5,"gpos100"],[81.5,"gneg"],[83.7,"gpos50"],[87.2,"gneg"],[89.8,"gpos50"],[93.3,"gneg"],[95.7,"gpos75"],[100,"gneg"]];

const PANELS = [
  { logR: chr5LogR, logRSegs: chr5LogRSegs, logROut: [] as Pt[], baf: chr5Baf, bafSegs: chr5BafSegs, bafOut: [] as Pt[], bands: chr5Bands },
  { logR: chr6LogR, logRSegs: chr6LogRSegs, logROut: [] as Pt[], baf: chr6Baf, bafSegs: chr6BafSegs, bafOut: [] as Pt[], bands: chr6Bands },
  { logR: chr7LogR, logRSegs: chr7LogRSegs, logROut: [] as Pt[], baf: chr7Baf, bafSegs: chr7BafSegs, bafOut: [] as Pt[], bands: chr7Bands },
  { logR: chr8LogR, logRSegs: chr8LogRSegs, logROut: chr8LogROut, baf: chr8Baf, bafSegs: chr8BafSegs, bafOut: chr8BafOut, bands: chr8Bands },
];

const STAINS = ["gneg", "gpos25", "gpos50", "gpos75", "gpos100", "acen"];
const STAIN_FILL = ["#FFFFFF", "#C0C0C0", "#808080", "#404040", "#000000", "#FFFF00"];

// layout
const FONT = "DejaVu Sans";
const COL_LEFT = [109, 809];
const PANEL_W = 554;
const ROW_TOPS = [
  [129, 270, 422],
  [543, 683, 837],
];
const HEIGHTS = [117, 144, 22];
const GRAY = "#BEBEBE";
const RED = "#FF0000";
const ASTERISK = "path://M5 0L5 10M0 5L10 5M1.5 1.5L8.5 8.5M1.5 8.5L8.5 1.5";

// join touching segments into step lines
function segmentRuns(segs: Seg[], connect: boolean): Pt[][] {
  const runs: Pt[][] = [];
  let prevEnd = NaN;
  for (const [s, e, v] of segs) {
    if (!connect || s !== prevEnd) runs.push([]);
    runs[runs.length - 1].push([s, v], [e, v]);
    prevEnd = e;
  }
  return runs;
}

// [start, end, mid, stainIndex, roundLeft, roundRight]
function bandItems(bands: Band[]) {
  const items: number[][] = [];
  let start = 0;
  bands.forEach(([end, stain], i) => {
    if (stain !== "gap") {
      const prev = bands[i - 1];
      const next = bands[i + 1];
      const rl = !prev || prev[1] === "gap" ? 1 : 0;
      const rr = !next || next[1] === "gap" ? 1 : 0;
      items.push([start, end, 0.5, STAINS.indexOf(stain), rl, rr]);
    }
    start = end;
  });
  return items;
}

function armItems(bands: Band[]) {
  const arms: number[][] = [];
  let start = 0;
  let armStart = 0;
  bands.forEach(([end, stain]) => {
    if (stain === "gap") {
      arms.push([armStart, start, 0.5]);
      armStart = end;
    }
    start = end;
  });
  arms.push([armStart, 100, 0.5]);
  return arms;
}

function yAxisFor(grid: number, kind: "logR" | "BAF") {
  const ticks = kind === "logR" ? LOGR_TICKS : BAF_TICKS;
  return {
    type: "value",
    gridIndex: grid,
    min: kind === "logR" ? -1 : 0.085,
    max: kind === "logR" ? 1 : 0.915,
    name: kind,
    nameLocation: "middle",
    nameRotate: 90,
    nameGap: 76,
    nameTextStyle: { fontSize: 27, color: "#000", fontFamily: FONT },
    axisLine: { show: true, lineStyle: { color: "#000", width: 2 } },
    axisTick: { show: true, length: 11, customValues: ticks, lineStyle: { color: "#000", width: 2 } },
    axisLabel: {
      customValues: ticks,
      formatter: (v: number) => v.toFixed(1),
      fontSize: 23,
      color: "#000",
      fontFamily: FONT,
      margin: 17,
    },
    splitLine: { show: false },
  };
}

export default function App() {
  const chartRef = useRef<HTMLDivElement | null>(null);

  useEffect(() => {
    if (!chartRef.current) {
      return;
    }
    const chart = echarts.init(chartRef.current, undefined, { renderer: "svg" });

    const grids: any[] = [];
    const xAxes: any[] = [];
    const yAxes: any[] = [];
    const series: any[] = [];
    const texts: any[] = [
      {
        type: "text",
        x: 699,
        y: 20,
        style: { text: "S2", font: `bold 35px "${FONT}"`, fill: "#000", textAlign: "center", textVerticalAlign: "middle" },
      },
    ];

    PANELS.forEach((p, i) => {
      const left = COL_LEFT[i % 2];
      const tops = ROW_TOPS[Math.floor(i / 2)];
      const g0 = i * 3;

      texts.push({
        type: "text",
        x: left + PANEL_W / 2,
        y: tops[0] - 30,
        style: {
          text: `Chromosome ${CHROMOSOMES[i]}`,
          font: `bold 30px "${FONT}"`,
          fill: "#000",
          textAlign: "center",
          textVerticalAlign: "middle",
        },
      });

      for (let k = 0; k < 3; k++) {
        grids.push({
          left,
          top: tops[k],
          width: PANEL_W,
          height: HEIGHTS[k],
          show: k < 2,
          borderColor: "#000",
          borderWidth: 2,
          backgroundColor: "transparent",
        });
        xAxes.push({ type: "value", gridIndex: g0 + k, min: 0, max: 100, show: false });
      }
      yAxes.push(yAxisFor(g0, "logR"));
      yAxes.push(yAxisFor(g0 + 1, "BAF"));
      yAxes.push({ type: "value", gridIndex: g0 + 2, min: 0, max: 1, show: false });

      const addPlot = (k: number, pts: Pt[], out: Pt[], segs: Seg[], ref: number, connect: boolean) => {
        series.push({
          type: "scatter",
          xAxisIndex: g0 + k,
          yAxisIndex: g0 + k,
          data: pts,
          symbol: "rect",
          symbolSize: 5,
          itemStyle: { color: GRAY },
          silent: true,
          z: 1,
        });
        if (out.length) {
          series.push({
            type: "scatter",
            xAxisIndex: g0 + k,
            yAxisIndex: g0 + k,
            data: out,
            symbol: ASTERISK,
            symbolSize: 12,
            itemStyle: { color: "none", borderColor: GRAY, borderWidth: 1.5 },
            silent: true,
            z: 1,
          });
        }
        series.push({
          type: "line",
          xAxisIndex: g0 + k,
          yAxisIndex: g0 + k,
          data: [[0, ref], [100, ref]],
          symbol: "none",
          lineStyle: { color: "#A9A9A9", width: 3.5, type: [27, 11] },
          silent: true,
          z: 2,
        });
        segmentRuns(segs, connect).forEach((run) => {
          series.push({
            type: "line",
            xAxisIndex: g0 + k,
            yAxisIndex: g0 + k,
            data: run,
            symbol: "none",
            lineStyle: { color: RED, width: 7, cap: "round", join: "round" },
            silent: true,
            z: 5,
          });
        });
      };

      addPlot(0, p.logR, p.logROut, p.logRSegs, LOGR_REF, true);
      addPlot(1, p.baf, p.bafOut, p.bafSegs, BAF_REF, false);

      // ideogram bands
      series.push({
        type: "custom",
        xAxisIndex: g0 + 2,
        yAxisIndex: g0 + 2,
        data: bandItems(p.bands),
        encode: { x: [0, 1], y: 2 },
        silent: true,
        z: 3,
        renderItem: (_params: any, api: any) => {
          const a = api.coord([api.value(0), 1]);
          const b = api.coord([api.value(1), 0]);
          const r = 6;
          const rl = api.value(4) ? r : 0;
          const rr = api.value(5) ? r : 0;
          return {
            type: "rect",
            shape: { x: a[0], y: a[1], width: b[0] - a[0], height: b[1] - a[1], r: [rl, rr, rr, rl] },
            style: { fill: STAIN_FILL[api.value(3)], stroke: "#000", lineWidth: 1 },
          };
        },
      });
      // arm outlines
      series.push({
        type: "custom",
        xAxisIndex: g0 + 2,
        yAxisIndex: g0 + 2,
        data: armItems(p.bands),
        encode: { x: [0, 1], y: 2 },
        silent: true,
        z: 4,
        renderItem: (_params: any, api: any) => {
          const a = api.coord([api.value(0), 1]);
          const b = api.coord([api.value(1), 0]);
          return {
            type: "rect",
            shape: { x: a[0], y: a[1], width: b[0] - a[0], height: b[1] - a[1], r: 6 },
            style: { fill: "none", stroke: "#000", lineWidth: 2 },
          };
        },
      });
    });

    chart.setOption({
      animation: false,
      backgroundColor: "#FFFFFF",
      textStyle: { fontFamily: FONT },
      grid: grids,
      xAxis: xAxes,
      yAxis: yAxes,
      series,
      graphic: texts,
    });

    return () => {
      chart.dispose();
    };
  }, []);

  return (
    <div
      ref={chartRef}
      style={{ position: "fixed", left: 0, top: 0, width: 1400, height: 866 }}
    />
  );
}
